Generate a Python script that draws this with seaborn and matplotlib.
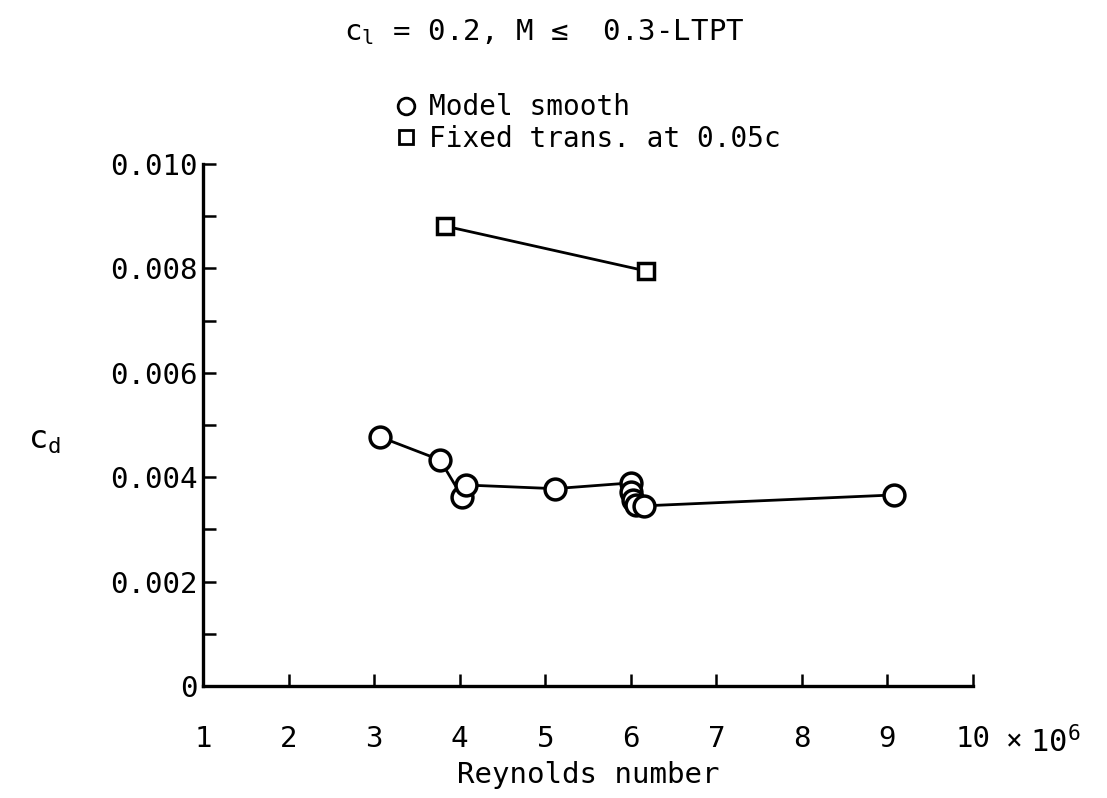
import matplotlib
matplotlib.use("Agg")
import matplotlib.pyplot as plt
from matplotlib.lines import Line2D
from matplotlib.ticker import MultipleLocator
import seaborn as sns
import pandas as pd

# Data
smooth_re = [3.07, 3.77, 4.03, 4.07, 5.11, 6.00, 6.00, 6.03, 6.06, 6.15, 9.08]
smooth_cd = [0.00477, 0.00433, 0.00362, 0.00385, 0.00378, 0.00389, 0.00372, 0.00357, 0.00346, 0.00345, 0.00366]
fixed_re = [3.83, 6.18]
fixed_cd = [0.00881, 0.00795]
x_ticks = [1, 2, 3, 4, 5, 6, 7, 8, 9, 10]
y_ticks = [0, 0.002, 0.004, 0.006, 0.008, 0.010]
y_tick_labels = ["0", "0.002", "0.004", "0.006", "0.008", "0.010"]

sns.set_style("ticks")
plt.rcParams["font.family"] = ["DejaVu Sans Mono", "DejaVu Sans"]
plt.rcParams["mathtext.default"] = "regular"
plt.rcParams["text.color"] = "black"
plt.rcParams["axes.labelcolor"] = "black"

fig = plt.figure(figsize=(11.07, 7.98), dpi=100)
ax = fig.add_axes([0.1834, 0.1404, 0.6956, 0.6541])

df_s = pd.DataFrame({"Re": smooth_re, "cd": smooth_cd})
df_f = pd.DataFrame({"Re": fixed_re, "cd": fixed_cd})

sns.lineplot(data=df_s, x="Re", y="cd", sort=False, estimator=None, ax=ax,
             color="black", linewidth=2.0, marker="o", markersize=15,
             markerfacecolor="white", markeredgecolor="black", markeredgewidth=2.5)
sns.lineplot(data=df_f, x="Re", y="cd", sort=False, estimator=None, ax=ax,
             color="black", linewidth=2.0, marker="s", markersize=11.5,
             markerfacecolor="white", markeredgecolor="black", markeredgewidth=2.5)

ax.set_xlim(1, 10)
ax.set_ylim(0, 0.010)
ax.set_xticks(x_ticks)
ax.set_xticklabels([str(v) for v in x_ticks])
ax.set_yticks(y_ticks)
ax.set_yticklabels(y_tick_labels)
ax.yaxis.set_minor_locator(MultipleLocator(0.001))
ax.tick_params(axis="both", which="both", direction="in", length=9, width=1.8,
               labelsize=21, colors="black")
ax.tick_params(axis="x", pad=28)
ax.tick_params(axis="y", pad=4)
for s in ["top", "right"]:
    ax.spines[s].set_visible(False)
for s in ["left", "bottom"]:
    ax.spines[s].set_linewidth(2.4)
    ax.spines[s].set_color("black")

ax.set_xlabel("Reynolds number", fontsize=21, labelpad=6)
ax.set_ylabel("")
fig.text(0.040, 0.448, "$c_d$", fontsize=23, ha="center", va="center")
fig.text(0.9160, 0.0705, "×", fontsize=20, ha="center", va="center")
fig.text(0.9300, 0.0705, "$10^6$", fontsize=22, ha="left", va="center")

fig.text(0.492, 0.960, "$c_l$ = 0.2, M ≤  0.3-LTPT", fontsize=21, ha="center", va="center")

handles = [
    Line2D([], [], linestyle="none", marker="o", markersize=12, markerfacecolor="white",
           markeredgecolor="black", markeredgewidth=2.0, label="Model smooth"),
    Line2D([], [], linestyle="none", marker="s", markersize=10.5, markerfacecolor="white",
           markeredgecolor="black", markeredgewidth=2.0, label="Fixed trans. at 0.05c"),
]
fig.legend(handles=handles, loc="upper left", bbox_to_anchor=(0.347, 0.897),
           frameon=False, fontsize=20, handlelength=0.8, handletextpad=0.4,
           labelspacing=0.12, borderaxespad=0)

fig.savefig("out.png", dpi=100, facecolor="white")
